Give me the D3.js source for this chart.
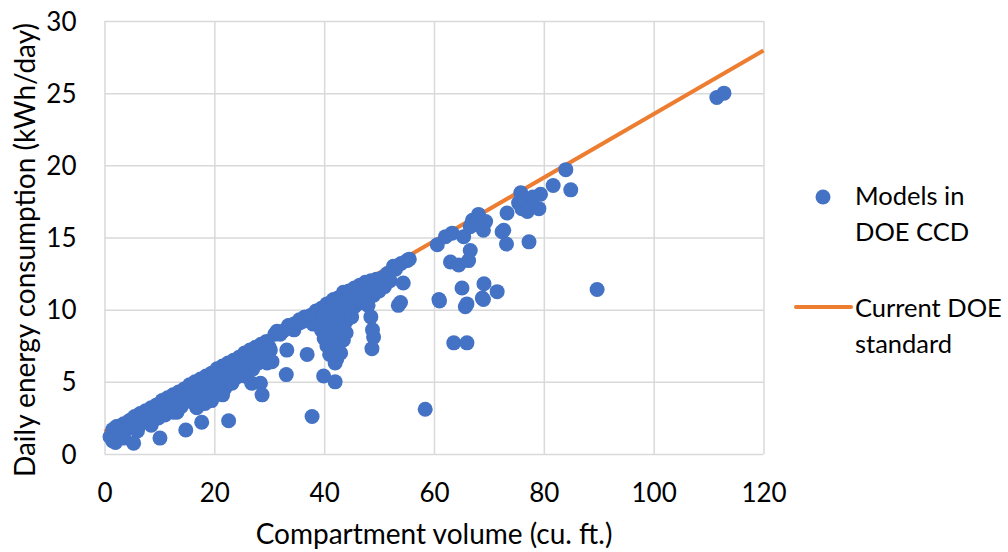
<!DOCTYPE html>
<html>
<head>
<meta charset="utf-8">
<script src="https://cdn.jsdelivr.net/npm/d3@7"></script>
<style>
  body { margin: 0; background: #fff; }
  svg text { font-family: Lato, "Open Sans", sans-serif; fill: #000; }
</style>
</head>
<body>
<div id="chart"></div>
<script>
// models in DOE CCD: [volume cu. ft., kWh/day]
const models = [
  [1.0,1.2],[1.5,0.9],[2.0,0.8],[2.2,1.9],[2.5,1.5],[3.0,1.2],[3.2,2.0],[3.5,1.6],[4.0,2.1],[4.5,1.8],
  [5.0,2.4],[5.3,0.75],[5.5,2.2],[6.0,2.6],[6.3,2.0],[6.8,2.7],[7.0,2.3],[7.5,2.8],[8.0,2.6],[8.5,3.0],
  [9.0,2.8],[9.5,3.3],[9.8,2.5],[10.0,3.1],[10.1,1.1],[10.5,3.5],[11.0,3.4],[11.5,3.2],[12.0,3.7],[12.5,3.5],
  [13.0,3.9],[13.2,2.9],[13.5,3.6],[14.0,4.1],[14.5,3.9],[14.8,1.66],[15.0,4.3],[15.5,4.0],[16.0,4.5],[16.5,4.2],
  [16.8,3.2],[17.0,4.6],[17.5,4.4],[17.7,2.2],[18.0,4.8],[18.3,3.5],[18.5,4.5],[19.0,5.0],[19.5,4.7],[20.0,5.2],
  [20.3,4.3],[20.5,5.0],[21.0,5.4],[21.5,5.1],[22.0,5.6],[22.0,4.6],[22.5,5.3],[22.6,2.3],[23.0,5.8],[23.2,4.9],
  [23.5,5.5],[24.0,6.0],[24.5,5.7],[25.0,6.3],[25.3,6.0],[25.5,5.4],[26.0,6.5],[26.5,6.2],[26.8,4.9],[27.0,6.7],
  [27.5,6.5],[28.0,6.9],[28.4,4.9],[28.7,4.1],[28.5,7.2],[29.0,7.5],[29.3,6.8],[29.6,6.3],[30.0,7.4],[30.2,7.2],
  [30.5,6.4],
  // upper edge of the band
  [1.5,1.7],[2.5,1.9],[3.5,2.1],[4.5,2.3],[5.5,2.6],[6.5,2.8],[7.5,3.0],[8.5,3.2],[9.5,3.4],[10.5,3.7],
  [11.5,3.9],[12.5,4.1],[13.5,4.3],[14.5,4.5],[15.5,4.8],[16.5,5.0],[17.5,5.2],[18.5,5.4],[19.5,5.6],[20.5,5.9],
  [21.5,6.1],[22.5,6.3],[23.5,6.5],[24.5,6.7],[25.5,7.0],[26.5,7.2],[27.5,7.4],[28.5,7.6],[29.5,7.8],
  // middle of the band
  [2.0,1.3],[3.0,1.5],[4.0,1.7],[5.0,1.9],[6.0,2.2],[7.0,2.4],[8.0,2.6],[9.0,2.8],[10.0,3.1],[11.0,3.3],
  [12.0,3.5],[13.0,3.7],[14.0,3.9],[15.0,4.2],[16.0,4.4],[17.0,4.6],[18.0,4.8],[19.0,5.0],[20.0,5.3],[21.0,5.5],
  [22.0,5.7],[23.0,5.9],[24.0,6.1],[25.0,6.4],[26.0,6.6],[27.0,6.8],[28.0,7.0],[29.0,7.2],
  // lower edge of the band
  [3.5,1.1],[6.0,1.6],[8.5,2.0],[11.0,2.7],[12.5,2.9],[14.0,3.3],[16.0,3.6],[17.5,3.8],[19.0,4.2],[20.5,4.5],
  [21.5,4.1],[23.0,5.0],[24.0,5.3],[25.5,5.5],[27.0,5.9],[28.0,6.3],[19.5,3.7],[25.9,6.05],
  // 30 - 56
  [31.0,8.3],[31.4,8.5],[32.0,8.3],[32.5,8.5],[33.1,5.5],[33.2,7.2],[33.5,8.9],[33.8,8.9],[34.5,9.0],[34.5,8.6],
  [35.5,9.3],[35.6,9.1],[36.2,9.2],[36.5,9.5],[36.9,6.9],[37.0,9.3],[37.5,9.6],[37.8,2.6],[38.0,9.0],[38.5,9.9],
  [38.7,9.8],[39.0,9.2],[39.5,10.1],[39.5,8.6],[39.9,5.4],[40.0,9.6],[40.0,8.0],[40.5,10.4],[40.5,8.8],[40.5,7.5],
  [41.0,9.9],[41.0,8.2],[41.0,6.9],[41.5,10.6],[41.5,9.0],[41.5,7.2],[41.7,10.7],[42.0,10.1],[42.0,8.5],[42.0,6.3],
  [42.0,5.0],[42.3,6.6],[42.5,10.8],[42.5,9.4],[42.5,7.6],[43.0,10.3],[43.0,8.8],[43.0,7.0],[43.5,11.0],[43.5,9.6],
  [43.5,7.9],[43.5,11.2],[44.0,10.5],[44.0,9.2],[44.0,8.4],[44.5,11.3],[44.5,9.9],[45.0,10.7],[45.0,9.5],[45.5,11.5],
  [45.5,10.2],[46.0,11.0],[46.5,11.7],[46.5,10.5],[47.0,11.2],[47.0,10.5],[47.5,11.9],[48.0,11.4],[48.0,10.3],[48.5,12.0],
  [48.5,9.5],[48.7,7.3],[49.0,8.1],[48.8,8.6],[49.0,11.0],[49.5,12.1],[50.0,11.3],[50.5,12.2],[51.0,11.6],[51.5,12.5],
  [52.0,12.0],[52.6,13.0],[53.0,12.8],[53.5,10.3],[53.9,10.5],[54.0,13.2],[54.4,11.85],[55.1,13.4],[55.5,13.5],
  // 58 - 75
  [58.4,3.1],[60.6,14.5],[60.9,10.7],[61.0,10.6],[62.1,15.06],[63.3,15.3],[63.0,13.3],[63.6,7.7],[64.5,13.1],[65.1,11.5],
  [65.4,15.06],[65.7,10.2],[66.0,10.4],[66.0,7.7],[66.3,13.4],[66.6,15.75],[66.6,14.1],[67.0,16.2],[67.9,16.1],[68.1,16.6],
  [68.5,15.8],[68.8,10.8],[69.0,15.5],[69.0,10.7],[69.1,11.8],[69.4,16.1],[71.5,11.25],[72.4,15.4],[72.7,15.5],[73.2,14.55],
  [73.3,16.7],
  // 75 - 113
  [75.4,17.4],[75.8,18.1],[76.0,17.0],[76.5,17.6],[77.0,16.8],[77.3,14.7],[77.8,17.2],[78.0,17.8],[79.1,17.0],[79.4,18.0],
  [81.7,18.6],[84.0,19.7],[84.9,18.3],[89.7,11.4],[111.5,24.7],[112.8,25.0]
];

// current DOE standard line
const standard = [[0, 1.55], [120, 27.95]];

const xTicks = [0, 20, 40, 60, 80, 100, 120];
const yTicks = [0, 5, 10, 15, 20, 25, 30];

const seriesNames = ['Models in|DOE CCD', 'Current DOE|standard'];

const W = 1008, H = 552;
const plot = { left: 104.5, right: 763.5, top: 21, bottom: 454 };

const x = d3.scaleLinear().domain([0, 120]).range([plot.left, plot.right]);
const y = d3.scaleLinear().domain([0, 30]).range([plot.bottom, plot.top]);

const svg = d3.select('#chart')
    .append('svg')
    .attr('width', W)
    .attr('height', H)
    .style('background', '#fff');

// grid + tick labels
const gx = svg.append('g')
    .attr('transform', `translate(0,${plot.bottom})`)
    .call(d3.axisBottom(x).tickValues(xTicks).tickSize(-(plot.bottom - plot.top)).tickFormat(d3.format('d')))
    .call(g => g.select('.domain').remove());
gx.selectAll('line').attr('stroke', '#d9d9d9').attr('stroke-width', 1.5);
gx.selectAll('text')
    .attr('y', 48)
    .attr('dy', null)
    .style('font-size', '26px');

const gy = svg.append('g')
    .attr('transform', `translate(${plot.left},0)`)
    .call(d3.axisLeft(y).tickValues(yTicks).tickSize(-(plot.right - plot.left)).tickPadding(28).tickFormat(d3.format('d')))
    .call(g => g.select('.domain').remove());
gy.selectAll('line').attr('stroke', '#d9d9d9').attr('stroke-width', 1.5);
gy.selectAll('text')
    .attr('dy', '0.35em')
    .style('font-size', '26px');

// axis titles
svg.append('text')
    .attr('x', (plot.left + plot.right) / 2)
    .attr('y', 544)
    .attr('text-anchor', 'middle')
    .style('font-size', '28px')
    .text('Compartment volume (cu. ft.)');

svg.append('text')
    .attr('transform', `translate(35,${250}) rotate(-90)`)
    .attr('text-anchor', 'middle')
    .style('font-size', '28px')
    .text('Daily energy consumption (kWh/day)');

// standard line
svg.append('path')
    .datum(standard)
    .attr('fill', 'none')
    .attr('stroke', '#ED7D31')
    .attr('stroke-width', 4)
    .attr('d', d3.line().x(d => x(d[0])).y(d => y(d[1])));

// points
svg.append('g')
    .selectAll('circle')
    .data(models)
    .join('circle')
    .attr('cx', d => x(d[0]))
    .attr('cy', d => y(d[1]))
    .attr('r', 7.5)
    .attr('fill', '#4472C4');

// legend
const legend = svg.append('g');
legend.append('circle')
    .attr('cx', 823).attr('cy', 197).attr('r', 7.5)
    .attr('fill', '#4472C4');
legend.append('line')
    .attr('x1', 796).attr('x2', 851).attr('y1', 307).attr('y2', 307)
    .attr('stroke', '#ED7D31').attr('stroke-width', 4).attr('stroke-linecap', 'round');

seriesNames.forEach((name, i) => {
    const t = legend.append('text')
        .attr('x', 855)
        .attr('y', i === 0 ? 205 : 317)
        .style('font-size', '25.5px');
    name.split('|').forEach((line, j) => {
        t.append('tspan')
            .attr('x', 855)
            .attr('dy', j === 0 ? 0 : 35.5)
            .text(line);
    });
});
</script>
</body>
</html>
